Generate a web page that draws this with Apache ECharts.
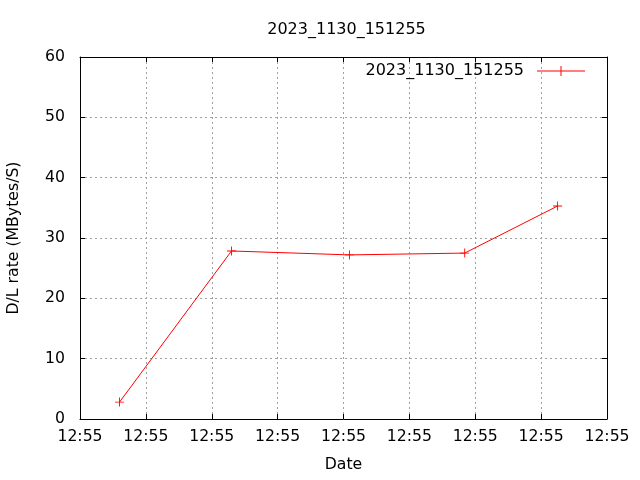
<!DOCTYPE html>
<html><head><meta charset="utf-8">
<script src="https://cdn.jsdelivr.net/npm/echarts@6/dist/echarts.min.js"></script>
<style>html,body{margin:0;padding:0;background:#fff}#c{width:640px;height:480px}</style>
</head><body><div id="c"></div>
<script>
// x values: seconds after 12:55:00 (ticks every 5 s, all labelled 12:55)
const seriesName = "2023_1130_151255";
const timeSec = [3.0, 11.5, 20.45, 29.2, 36.25];
const rateMBs = [2.8, 27.85, 27.2, 27.5, 35.3];
const xTickLabel = "12:55";
const yTicks = [0, 10, 20, 30, 40, 50, 60];

const font = 'DejaVu Sans';
const fs = 15.7;
const plus = 'path://M4.5,0 L5.5,0 L5.5,4.5 L10,4.5 L10,5.5 L5.5,5.5 L5.5,10 L4.5,10 L4.5,5.5 L0,5.5 L0,4.5 L4.5,4.5 Z';
const legendIcon = 'path://M0,4.5 L48,4.5 L48,5.5 L0,5.5 Z M23.5,0 L24.5,0 L24.5,10 L23.5,10 Z';

const chart = echarts.init(document.getElementById('c'), null, {renderer: 'canvas'});
const grid = {left: 80, right: 33, top: 57, bottom: 61, containLabel: false, outerBoundsMode: 'none'};
const xBase = {type: 'value', min: 0, max: 40, interval: 5};
const yBase = {type: 'value', min: yTicks[0], max: yTicks[yTicks.length - 1], interval: 10};
chart.setOption({
  animation: false,
  backgroundColor: '#fff',
  textStyle: {fontFamily: font},
  title: {text: seriesName, left: 341.5, textAlign: 'center', top: 17,
    textStyle: {fontFamily: font, fontSize: 16, fontWeight: 'normal', color: '#000'}},
  legend: {right: 50, top: 58, align: 'right', itemWidth: 48, itemHeight: 10, itemGap: 10,
    textStyle: {fontFamily: font, fontSize: 16, color: '#000', padding: [0, 8, 0, 0]},
    data: [{name: seriesName, icon: legendIcon, itemStyle: {color: '#ff0000'}}]},
  grid: grid,
  xAxis: [
    Object.assign({}, xBase, {position: 'bottom', name: 'Date', nameLocation: 'middle', nameGap: 38,
      nameTextStyle: {fontFamily: font, fontSize: fs, color: '#000'},
      axisLine: {show: true, onZero: false, lineStyle: {color: '#000', width: 1}},
      axisTick: {show: true, inside: true, length: 5, lineStyle: {color: '#000'}},
      axisLabel: {margin: 10, fontFamily: font, fontSize: fs, color: '#000', formatter: () => xTickLabel},
      splitLine: {show: true, lineStyle: {color: '#a0a0a0', type: [2, 3], width: 1}}}),
    Object.assign({}, xBase, {position: 'top',
      axisLine: {show: true, onZero: false, lineStyle: {color: '#000', width: 1}},
      axisTick: {show: true, inside: true, length: 5, lineStyle: {color: '#000'}},
      axisLabel: {show: false}, splitLine: {show: false}})
  ],
  yAxis: [
    Object.assign({}, yBase, {position: 'left', name: 'D/L rate (MBytes/S)', nameLocation: 'middle', nameGap: 58,
      nameTextStyle: {fontFamily: font, fontSize: fs, color: '#000'},
      axisLine: {show: true, onZero: false, lineStyle: {color: '#000', width: 1}},
      axisTick: {show: true, inside: true, length: 5, lineStyle: {color: '#000'}},
      axisLabel: {margin: 15, fontFamily: font, fontSize: fs, color: '#000'},
      splitLine: {show: true, lineStyle: {color: '#a0a0a0', type: [2, 3], width: 1}}}),
    Object.assign({}, yBase, {position: 'right',
      axisLine: {show: true, onZero: false, lineStyle: {color: '#000', width: 1}},
      axisTick: {show: true, inside: true, length: 5, lineStyle: {color: '#000'}},
      axisLabel: {show: false}, splitLine: {show: false}})
  ],
  series: [{
    name: seriesName, type: 'line', xAxisIndex: 0, yAxisIndex: 0,
    data: timeSec.map((t, i) => [t, rateMBs[i]]),
    symbol: plus, symbolSize: 9, showSymbol: true,
    lineStyle: {color: '#ff0000', width: 1},
    itemStyle: {color: '#ff0000'},
    emphasis: {disabled: true}
  }]
});
</script></body></html>
